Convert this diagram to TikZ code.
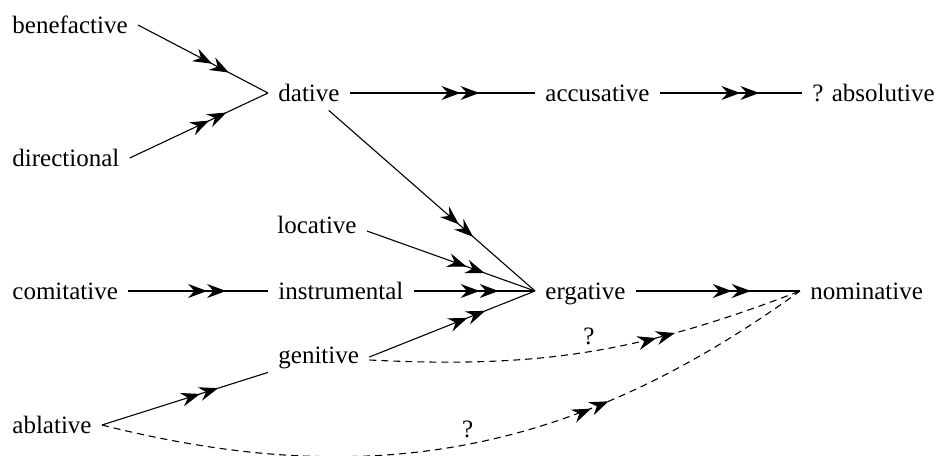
\documentclass[tikz,border=0pt]{standalone}
\usepackage{fontspec}
\setmainfont{Liberation Serif}
\usetikzlibrary{arrows.meta,decorations.markings}
\begin{document}
\begin{tikzpicture}[x=0.5pt,y=-0.5pt,
  lbl/.style={font=\fontsize{12.5}{15}\selectfont, inner xsep=5pt, inner ysep=3pt, text height=9.5pt, text depth=1.5pt, anchor=base west},
  qlbl/.style={font=\fontsize{12.5}{15}\selectfont, inner sep=3pt},
  conn/.style={line width=0.55pt, postaction={decorate}, decoration={markings, mark=at position #1 with {\arrow{Stealth[length=9.5pt,width=7pt,inset=3.2pt] Stealth[length=9.5pt,width=7pt,inset=3.2pt]}}}},
  conn/.default=0.7,
  dsh/.style={dash pattern=on 3.5pt off 2.5pt}
]
\useasboundingbox (0,0) rectangle (936,455);

\node[lbl] (ben) at (2,33) {benefactive};
\node[lbl] (dir) at (2,166) {directional};
\node[lbl] (dat) at (268,101) {dative};
\node[lbl] (acc) at (535,101) {accusative};
\node[lbl] (abs) at (802,101) {? absolutive};
\node[lbl] (loc) at (267,233) {locative};
\node[lbl] (com) at (2,299) {comitative};
\node[lbl] (ins) at (268,299) {instrumental};
\node[lbl] (erg) at (535,299) {ergative};
\node[lbl] (nom) at (800,299) {nominative};
\node[lbl] (gen) at (268,363) {genitive};
\node[lbl] (abl) at (2,433) {ablative};

\draw[conn] (ben.east) -- (dat.west);
\draw[conn] (dir.east) -- (dat.west);
\draw[conn] (dat.east) -- (acc.west);
\draw[conn] (acc.east) -- (abs.west);
\draw[conn] (dat) -- (erg.west);
\draw[conn] ([yshift=-3pt]loc.east) -- (erg.west);
\draw[conn] (ins.east) -- (erg.west);
\draw[conn] ([yshift=-1pt]gen.east) -- (erg.west);
\draw[conn] (com.east) -- (ins.west);
\draw[conn] (erg.east) -- (nom.west);
\draw[conn] (abl.east) -- (gen.south west);
\draw[conn=0.7,dsh] ([yshift=-2.5pt]gen.east) to[bend right=12] node[qlbl, pos=0.5, above] {?} (nom.west);
\draw[conn=0.7,dsh] (abl.east) to[bend right=25] node[qlbl, pos=0.5, above] {?} (nom.west);
\end{tikzpicture}
\end{document}
